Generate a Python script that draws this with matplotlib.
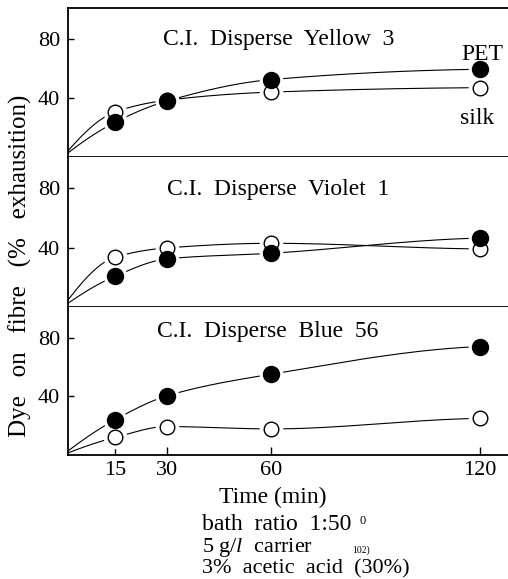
import matplotlib.pyplot as plt
import numpy as np

plt.rcParams['font.family'] = ['Liberation Serif', 'DejaVu Serif']
plt.rcParams['mathtext.fontset'] = 'custom'
plt.rcParams['mathtext.it'] = 'Liberation Serif:italic'
plt.rcParams['mathtext.rm'] = 'Liberation Serif'

# sampling times (min)
times = [15, 30, 60, 120]
xticks = [15, 30, 60, 120]
yticks = [40, 80]

titles = ['C.I.  Disperse  Yellow  3', 'C.I.  Disperse  Violet  1', 'C.I.  Disperse  Blue  56']
# % exhaustion
pet_yellow = [23.5, 38.0, 52.5, 59.5]
silk_yellow = [30.5, 38.5, 44.0, 47.0]
pet_violet = [20.7, 32.4, 36.2, 46.4]
silk_violet = [33.5, 39.8, 42.9, 39.1]
pet_blue = [24.0, 40.4, 55.2, 74.0]
silk_blue = [12.0, 19.4, 17.8, 25.0]

pet_series = [pet_yellow, pet_violet, pet_blue]
silk_series = [silk_yellow, silk_violet, silk_blue]

W, H = 508, 579


def smooth(x, y, xs):
    # monotone cubic (pchip) through the points, used only to draw the curve
    x = np.asarray(x, float); y = np.asarray(y, float)
    h = np.diff(x); d = np.diff(y) / h
    n = len(x)
    m = np.zeros(n)
    for k in range(1, n - 1):
        if d[k - 1] * d[k] > 0:
            w1 = 2 * h[k] + h[k - 1]
            w2 = h[k] + 2 * h[k - 1]
            m[k] = (w1 + w2) / (w1 / d[k - 1] + w2 / d[k])
    m[0] = ((2 * h[0] + h[1]) * d[0] - h[0] * d[1]) / (h[0] + h[1])
    if m[0] * d[0] <= 0:
        m[0] = 0
    m[-1] = 0.3 * d[-1]
    out = np.zeros_like(xs)
    for i, xv in enumerate(xs):
        k = min(np.searchsorted(x, xv, side='right') - 1, n - 2)
        k = max(k, 0)
        t = (xv - x[k]) / h[k]
        h00 = 2 * t**3 - 3 * t**2 + 1
        h10 = t**3 - 2 * t**2 + t
        h01 = -2 * t**3 + 3 * t**2
        h11 = t**3 - t**2
        out[i] = h00 * y[k] + h10 * h[k] * m[k] + h01 * y[k + 1] + h11 * h[k] * m[k + 1]
    return out


fig = plt.figure(figsize=(W / 100, H / 100), dpi=100)

left = 68 / W
width = 1 - left
panel_top = [8, 157, 307]
panel_bot = [157, 307, 455]

axes = []
for i in range(3):
    ax = fig.add_axes([left, 1 - panel_bot[i] / H, width, (panel_bot[i] - panel_top[i]) / H])
    axes.append(ax)
    ax.set_xlim(1.5, 128)
    ax.set_ylim(0, 101)
    ax.spines['right'].set_visible(False)
    if i > 0:
        ax.spines['top'].set_visible(False)
    for s in ['left', 'bottom', 'top']:
        ax.spines[s].set_linewidth(1.3)
    ax.set_yticks(yticks)
    ax.tick_params(axis='y', direction='in', length=4, width=1, pad=5.5, labelsize=16)
    ax.set_xticks(xticks)
    if i < 2:
        ax.tick_params(axis='x', length=0, labelbottom=False)
    else:
        ax.tick_params(axis='x', direction='in', length=6, width=1, pad=4, labelsize=16)

    xs = np.linspace(0, 120, 300)
    for ys in (pet_series[i], silk_series[i]):
        ax.plot(xs, smooth([0] + times, [0] + ys, xs), color='black', lw=0.8, zorder=2)
    # white halos break the lines around the markers
    ax.plot(times, silk_series[i], 'o', ms=16, color='white', zorder=3, clip_on=False)
    ax.plot(times, pet_series[i], 'o', ms=16, color='white', zorder=3, clip_on=False)
    ax.plot(times, silk_series[i], 'o', ms=10.5, mfc='white', mec='black', mew=1.0,
            zorder=4, clip_on=False)
    ax.plot(times, pet_series[i], 'o', ms=11.5, color='black', zorder=5, clip_on=False)


def ftext(x, y, s, **kw):
    fig.text(x / W, 1 - y / H, s, **kw)


ftext(279, 40, titles[0], fontsize=17, ha='center', va='center')
ftext(278, 190, titles[1], fontsize=17, ha='center', va='center')
ftext(268, 331, titles[2], fontsize=17, ha='center', va='center')
ftext(482, 54, 'PET', fontsize=17, ha='center', va='center')
ftext(477, 119, 'silk', fontsize=17, ha='center', va='center')

ftext(20, 266, 'Dye   on   fibre   (%   exhausition)', fontsize=18, rotation=90,
      ha='center', va='center')
ftext(273, 503, 'Time (min)', fontsize=17, ha='center', va='baseline')
ftext(202, 530, 'bath  ratio  1:50', fontsize=17, ha='left', va='baseline')
ftext(360, 524, '0', fontsize=9, ha='left', va='baseline')
ftext(202, 552, '5 g/$l$  carrier', fontsize=16, ha='left', va='baseline')
ftext(352, 553, '102)', fontsize=7, ha='left', va='baseline')
ftext(202, 573, '3%  acetic  acid  (30%)', fontsize=16, ha='left', va='baseline')

fig.savefig('out.png', dpi=100)
